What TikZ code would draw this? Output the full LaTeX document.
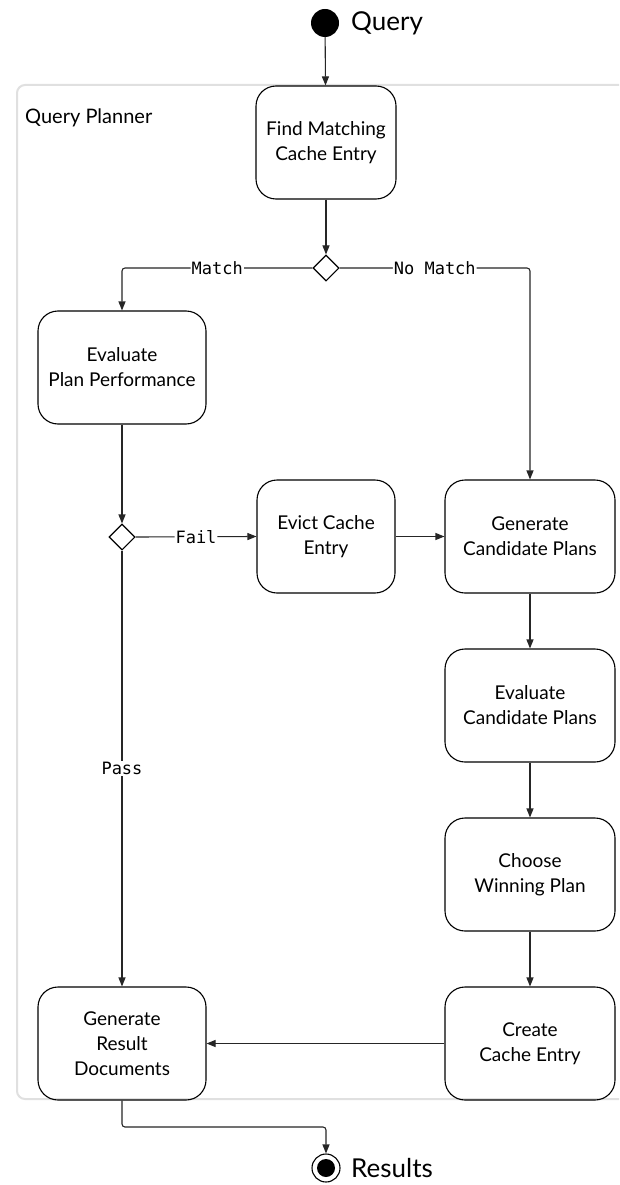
\documentclass[tikz,border=0pt]{standalone}
\usepackage{fontspec}
\setmainfont{Lato}
\newfontfamily\labelfont{DejaVu Sans Mono}
\usetikzlibrary{arrows.meta,shapes.geometric}
\tikzset{
  x=1pt,y=-1pt,
  act/.style={draw=black,line width=1.1pt,rounded corners=20pt,minimum height=113pt,align=center,font=\fontsize{19}{25}\selectfont,inner sep=0pt},
  dec/.style={draw=black,line width=1.1pt,fill=white,diamond,minimum width=26pt,minimum height=26pt,inner sep=0pt},
  flow/.style={draw=black!85,line width=1.1pt,-{Triangle[length=9pt,width=7pt]},rounded corners=3pt},
  lbl/.style={fill=white,inner sep=1pt,font=\labelfont\fontsize{17}{18}\selectfont},
  big/.style={font=\fontsize{26}{30}\selectfont,anchor=west,inner sep=0pt}
}
\begin{document}
\begin{tikzpicture}
\clip (0,0) rectangle (619,1185);
\fill[white] (0,0) rectangle (619,1185);
% container
\draw[black!12,line width=2pt,rounded corners=8pt] (17,85) rectangle (660,1099);
\node[anchor=west,inner sep=0pt,font=\fontsize{20}{22}\selectfont] (qp) at (25,118) {Query Planner};
% nodes
\node[circle,fill=black,minimum size=28pt,inner sep=0pt] (start) at (325,23) {};
\node[big] (qlabel) at (351,23) {Query};
\node[act,minimum width=140pt] (find) at (326,142.5) {Find Matching\\Cache Entry};
\node[dec] (d1) at (326,268) {};
\node[act,minimum width=168pt] (evalpp) at (122,367.5) {Evaluate\\Plan Performance};
\node[dec] (d2) at (122,537) {};
\node[act,minimum width=138pt] (evict) at (326,536.5) {Evict Cache\\Entry};
\node[act,minimum width=170pt] (gencand) at (530,536.5) {Generate\\Candidate Plans};
\node[act,minimum width=170pt] (evalcand) at (530,705.5) {Evaluate\\Candidate Plans};
\node[act,minimum width=170pt] (choose) at (530,874.5) {Choose\\Winning Plan};
\node[act,minimum width=170pt] (create) at (530,1043.5) {Create\\Cache Entry};
\node[act,minimum width=168pt] (genres) at (122,1043.5) {Generate\\Result\\Documents};
\node[circle,draw=black,line width=1.1pt,minimum size=28pt,inner sep=0pt] (finish) at (326,1168) {};
\fill[black] (finish.center) circle (9pt);
\node[big] (rlabel) at (351,1168) {Results};
% connectors
\draw[flow] (start) -- (find);
\draw[flow] (find) -- (d1);
\draw[flow] (d1.west) -- node[lbl,pos=0.5]{Match} (evalpp.north |- d1.west) -- (evalpp.north);
\draw[flow] (d1.east) -- node[lbl,pos=0.5]{No Match} (gencand.north |- d1.east) -- (gencand.north);
\draw[flow] (evalpp) -- (d2);
\draw[flow] (d2.east) -- node[lbl]{Fail} (evict.west);
\draw[flow] (evict) -- (gencand);
\draw[flow] (gencand) -- (evalcand);
\draw[flow] (evalcand) -- (choose);
\draw[flow] (choose) -- (create);
\draw[flow] (create) -- (genres);
\draw[flow] (d2.south) -- node[lbl]{Pass} (genres.north);
\coordinate (bend) at (122,1127);
\draw[flow] (genres.south) -- (bend) -| (finish.north);
\end{tikzpicture}
\end{document}
